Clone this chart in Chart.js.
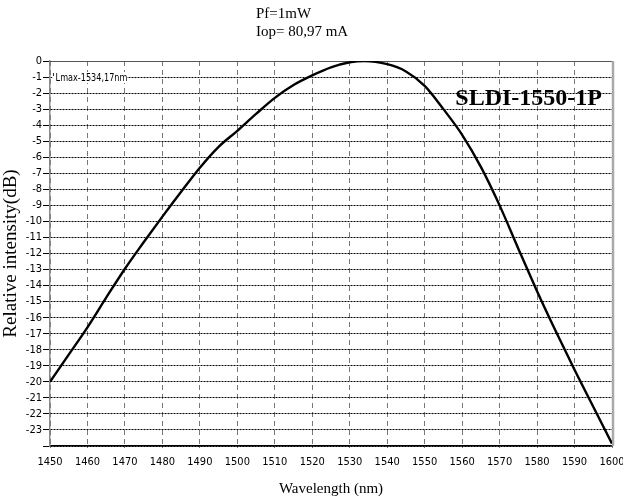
<!DOCTYPE html>
<html>
<head>
<meta charset="utf-8">
<script src="https://cdn.jsdelivr.net/npm/chart.js@4"></script>
<style>
  body { margin: 0; background: #fff; }
  #wrap { width: 623px; height: 498px; }
</style>
</head>
<body>
<div id="wrap"><canvas id="spectrum" width="623" height="498"></canvas></div>
<script>
// values
const wavelength = [1450, 1455, 1460, 1465, 1470, 1475, 1480, 1485, 1490, 1495, 1500, 1505, 1510, 1515, 1520, 1525,
  1530, 1534, 1540, 1545, 1550, 1555, 1560, 1565, 1570, 1575, 1580, 1585, 1590, 1595, 1600];
const intensity = [-20.0, -18.3, -16.6, -14.75, -12.95, -11.3, -9.7, -8.15, -6.65, -5.35, -4.35, -3.3, -2.3, -1.5, -0.9, -0.4,
  -0.08, 0, -0.2, -0.65, -1.55, -3.0, -4.6, -6.6, -9.0, -11.7, -14.35, -16.85, -19.25, -21.55, -23.85];

const headerLines = ['Pf=1mW', 'Iop= 80,97 mA'];
const deviceName = 'SLDI-1550-1P';
const peakNote = 'Lmax-1534,17nm';
const peakNoteAt = { x: 1451.5, y: -1 };

const narrowFont = "'Liberation Sans Narrow', 'Arial Narrow', 'DejaVu Sans Condensed', 'Liberation Sans', sans-serif";
const serifFont = "'Liberation Serif', 'DejaVu Serif', serif";

/* =========================
   TEXT + FRAME PLUGIN
========================= */

const decorPlugin = {
  id: 'decor',
  beforeDatasetsDraw(chart) {
    const { ctx, chartArea: a, scales } = chart;
    ctx.save();
    // solid top line and grey right edge
    ctx.strokeStyle = '#555';
    ctx.lineWidth = 1;
    ctx.beginPath();
    ctx.moveTo(a.left, a.top + 0.5);
    ctx.lineTo(a.right, a.top + 0.5);
    ctx.stroke();
    ctx.strokeStyle = '#aaa';
    ctx.lineWidth = 2.5;
    ctx.beginPath();
    ctx.moveTo(a.right + 1, a.top);
    ctx.lineTo(a.right + 1, a.bottom);
    ctx.stroke();

    // peak note, on a white patch that hides the grid
    const nx = scales.x.getPixelForValue(peakNoteAt.x);
    const ny = scales.y.getPixelForValue(peakNoteAt.y) + 4;
    ctx.font = '11px ' + narrowFont;
    ctx.translate(nx, ny);
    ctx.scale(0.82, 1);
    const w = ctx.measureText(peakNote).width;
    ctx.fillStyle = '#fff';
    ctx.fillRect(-4, -9, w + 4, 11);
    ctx.fillStyle = '#000';
    ctx.fillText(peakNote, 0, 0);
    ctx.fillRect(-3, -8, 1, 3);
    ctx.restore();
  },
  afterDraw(chart) {
    const { ctx } = chart;
    ctx.save();
    ctx.fillStyle = '#000';
    ctx.textBaseline = 'alphabetic';

    // header
    ctx.font = '15px ' + serifFont;
    ctx.textAlign = 'left';
    ctx.fillText(headerLines[0], 256, 18);
    ctx.fillText(headerLines[1], 256, 36);

    // device name
    ctx.font = 'bold 24px ' + serifFont;
    ctx.textAlign = 'right';
    ctx.fillText(deviceName, 602, 105);
    ctx.restore();
  }
};

/* =========================
   MAIN CHART
========================= */

const ctx = document.getElementById('spectrum').getContext('2d');

new Chart(ctx, {
  type: 'line',
  data: {
    datasets: [
      {
        label: 'Relative intensity',
        data: wavelength.map((w, i) => ({ x: w, y: intensity[i] })),
        borderColor: '#000',
        borderWidth: 2.4,
        pointRadius: 0,
        fill: false,
        cubicInterpolationMode: 'monotone'
      }
    ]
  },
  options: {
    responsive: false,
    animation: false,
    layout: {
      padding: { top: 61, right: 0, left: 0, bottom: 0 }
    },
    scales: {
      x: {
        type: 'linear',
        min: 1450,
        max: 1600,
        afterFit: (s) => { s.height = 52; s.paddingRight = 11; s.paddingLeft = 0; },
        ticks: {
          stepSize: 10,
          autoSkip: false,
          color: '#000',
          padding: 8,
          maxRotation: 0,
          font: { family: narrowFont, size: 11 },
          callback: (v) => String(v)
        },
        grid: {
          color: '#777',
          lineWidth: 1,
          drawTicks: true,
          tickLength: 2
        },
        border: {
          display: true,
          color: '#000',
          width: 1.5,
          dash: [5, 4]
        },
        title: {
          display: true,
          text: 'Wavelength (nm)',
          color: '#000',
          font: { family: serifFont, size: 15 },
          padding: { top: 0, bottom: 0 }
        }
      },
      y: {
        min: -24,
        max: 0,
        afterFit: (s) => { s.width = 50; },
        ticks: {
          stepSize: 1,
          autoSkip: false,
          color: '#000',
          padding: 1,
          font: { family: narrowFont, size: 11 },
          callback: (v) => (v === -24 ? '' : String(v))
        },
        grid: {
          color: '#000',
          lineWidth: 1,
          tickLength: 7
        },
        border: {
          display: true,
          color: '#888',
          width: 1.5,
          dash: [2, 1]
        },
        title: {
          display: true,
          text: 'Relative intensity(dB)',
          color: '#000',
          font: { family: serifFont, size: 19 },
          padding: { top: 0, bottom: 0 }
        }
      }
    },
    plugins: {
      legend: { display: false },
      tooltip: { enabled: false }
    }
  },
  plugins: [decorPlugin]
});
</script>
</body>
</html>
